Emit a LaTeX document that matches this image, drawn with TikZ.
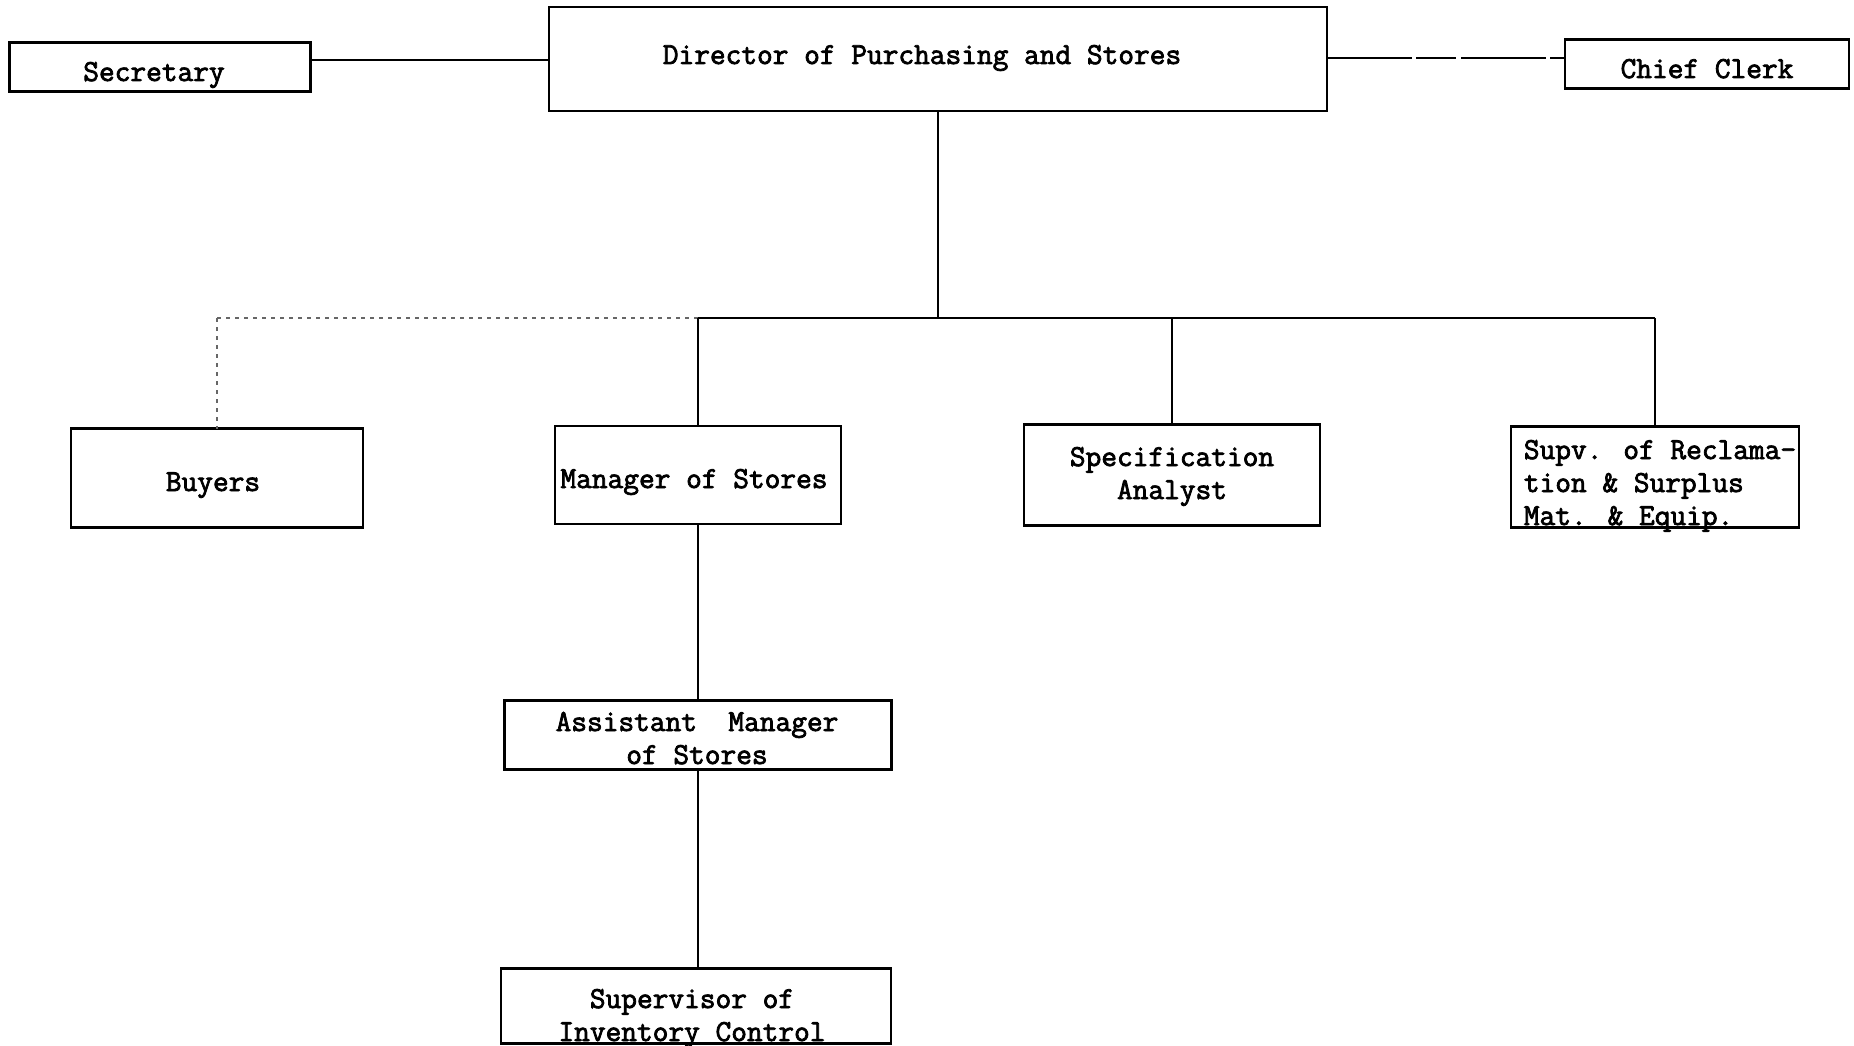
\documentclass[tikz,border=0pt]{standalone}
\usepackage{fontspec}
\newfontfamily\typer{Latin Modern Mono}[FakeBold=2.5]
\begin{document}
\begin{tikzpicture}[x=1pt,y=-1pt,
  every node/.style={inner sep=0pt, outer sep=0pt},
  box/.style={draw, line width=2.2pt},
  txt/.style={font=\typer\fontsize{30.5}{33}\selectfont, anchor=base},
  link/.style={line width=1.8pt},
  faint/.style={line width=1.1pt, black!60, dash pattern=on 4pt off 5pt},
  broken/.style={line width=1.8pt, dash pattern=on 85pt off 4pt on 40pt off 5pt}]

% canvas
\fill[white] (0,0) rectangle (1854,1046);
\useasboundingbox (0,0) rectangle (1854,1046);

% boxes
\node[box, minimum width=778pt, minimum height=104pt] (dir)   at (938,59)  {};
\node[box, minimum width=301pt, minimum height=49pt]  (sec)   at (160,67)  {};
\node[box, minimum width=284pt, minimum height=49pt]  (cc)    at (1707,64) {};
\node[box, minimum width=292pt, minimum height=99pt]  (buy)   at (217,478) {};
\node[box, minimum width=286pt, minimum height=98pt]  (mgr)   at (698,475) {};
\node[box, minimum width=296pt, minimum height=101pt] (spec)  at (1172,475) {};
\node[box, minimum width=288pt, minimum height=101pt] (supv)  at (1655,477) {};
\node[box, minimum width=387pt, minimum height=69pt]  (asst)  at (698,735) {};
\node[box, minimum width=390pt, minimum height=75pt]  (inv)   at (696,1006) {};

% texts (multi-line nodes sit on the baseline of their last line)
\node[txt] (dirt)  at (922,64)  {Director of Purchasing and Stores};
\node[txt] (sect)  at (154,81)  {Secretary};
\node[txt] (cct)   at (1707,78) {Chief Clerk};
\node[txt] (buyt)  at (213,491) {Buyers};
\node[txt] (mgrt)  at (694,488) {Manager of Stores};
\node[txt, align=center] (spect) at (1172,499) {Specification\\Analyst};
\node[txt, align=left] (supvt) at (1660,525) {Supv. of Reclama-\\tion \& Surplus\\Mat. \& Equip.};
\node[txt, align=center] (asstt) at (697,764) {Assistant\ \ Manager\\of Stores};
\node[txt, align=center] (invt)  at (692,1041) {Supervisor of\\Inventory Control};

% staff links
\coordinate (secj) at ([yshift=7pt]sec.east);
\draw[link] (secj) -- (secj -| dir.west);
\coordinate (ccj) at ([yshift=6pt]cc.west);
\draw[broken] (ccj -| dir.east) -- (ccj);

% line links
\coordinate (bus) at (938,318);
\draw[link] (dir.south) -- (bus);
\draw[faint] (buy.north |- bus) -- (mgr.north |- bus);
\draw[faint] (buy.north |- bus) -- (buy.north);
\draw[link] (mgr.north |- bus) -- (supv.north |- bus);
\draw[link] (mgr.north |- bus) -- (mgr.north);
\draw[link] (spec.north |- bus) -- (spec.north);
\draw[link] (supv.north |- bus) -- (supv.north);
\draw[link] (mgr.south) -- (mgr.south |- asst.north);
\draw[link] (asst.south) -- (asst.south |- inv.north);
\end{tikzpicture}
\end{document}
